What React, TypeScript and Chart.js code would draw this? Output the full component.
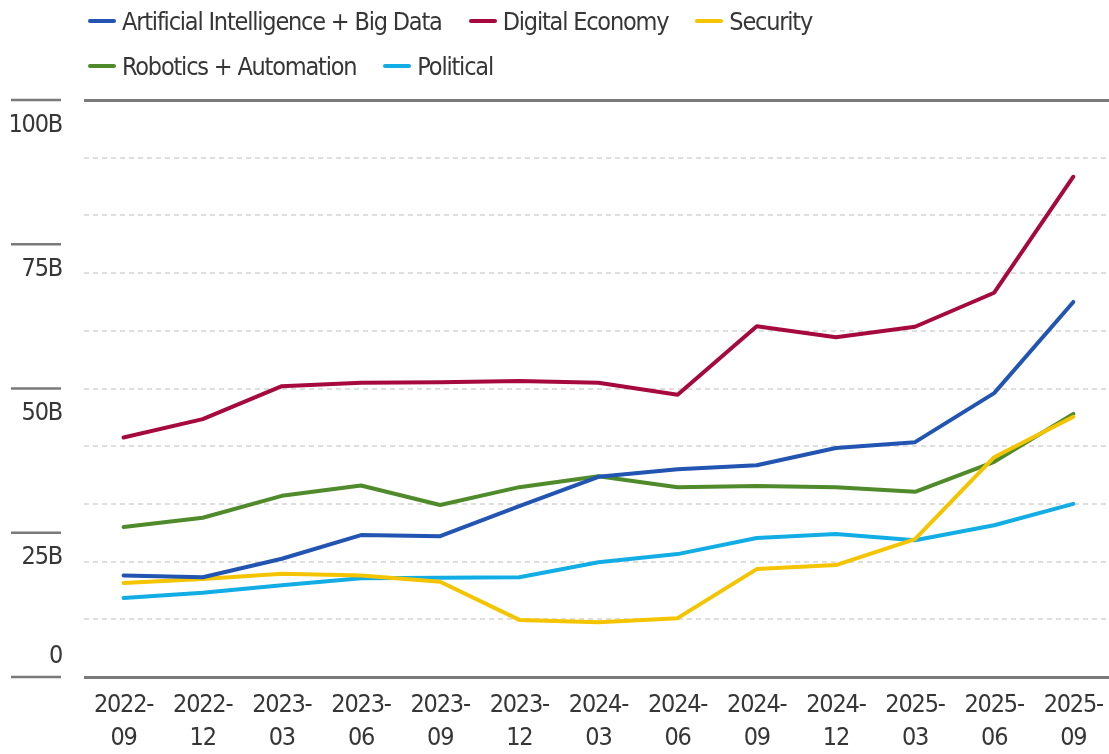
import React, { useEffect, useRef } from "react";
import { Chart, registerables } from "chart.js";

Chart.register(...registerables);

const periods = [
  ["2022-", "09"], ["2022-", "12"], ["2023-", "03"], ["2023-", "06"], ["2023-", "09"],
  ["2023-", "12"], ["2024-", "03"], ["2024-", "06"], ["2024-", "09"], ["2024-", "12"],
  ["2025-", "03"], ["2025-", "06"], ["2025-", "09"],
];

const aiBigData = [17.6, 17.3, 20.5, 24.6, 24.4, 29.6, 34.7, 36.0, 36.7, 39.7, 40.7, 49.2, 65.0];
const digitalEconomy = [41.5, 44.7, 50.4, 51.0, 51.1, 51.3, 51.0, 48.9, 60.8, 58.9, 60.7, 66.6, 86.7];
const security = [16.3, 17.0, 17.9, 17.6, 16.5, 9.9, 9.5, 10.2, 18.7, 19.4, 23.9, 38.1, 45.1];
const robotics = [26.0, 27.6, 31.4, 33.2, 29.8, 32.9, 34.8, 32.9, 33.1, 32.9, 32.1, 37.3, 45.6];
const political = [13.7, 14.6, 15.9, 17.1, 17.2, 17.3, 19.9, 21.3, 24.1, 24.8, 23.7, 26.3, 30.0];

const yLabelValues = [0, 25, 50, 75, 100];
const yLabelText = ["0", "25B", "50B", "75B", "100B"];

const seriesNames = [
  "Artificial Intelligence + Big Data",
  "Digital Economy",
  "Security",
  "Robotics + Automation",
  "Political",
];
const seriesColors = ["#2254B2", "#A6093D", "#F5C400", "#4F8A2B", "#12ADE5"];
const seriesData = [aiBigData, digitalEconomy, security, robotics, political];
const legendRows = [[0, 1, 2], [3, 4]];

const FONT = "'DejaVu Sans Condensed', 'Liberation Sans Narrow', 'Roboto', sans-serif";
const TEXT = "#363636";
const LETTER = "-1.2px";

const spacingPlugin = {
  id: "spacing",
  beforeDraw(chart: any) {
    (chart.ctx as any).letterSpacing = LETTER;
  },
};

const yLabelPlugin = {
  id: "yLabels",
  afterDraw(chart: any) {
    const ctx = chart.ctx;
    const y = chart.scales.y;
    ctx.save();
    (ctx as any).letterSpacing = LETTER;
    ctx.font = `25px ${FONT}`;
    ctx.textAlign = "right";
    ctx.textBaseline = "middle";
    yLabelValues.forEach((v, i) => {
      const py = y.getPixelForValue(v);
      ctx.strokeStyle = "#7a7a7a";
      ctx.lineWidth = 2.5;
      ctx.beginPath();
      ctx.moveTo(11, py);
      ctx.lineTo(61, py);
      ctx.stroke();
      ctx.fillStyle = TEXT;
      ctx.fillText(yLabelText[i], 62, v === 0 ? py - 21 : py + 25);
    });
    ctx.restore();
  },
};

export default function App() {
  const ref = useRef<HTMLCanvasElement>(null);

  useEffect(() => {
    if (!ref.current) return;
    const isEdge = (ctx: any) => ctx.tick && (ctx.tick.value === 0 || ctx.tick.value === 100);
    const chart = new Chart(ref.current, {
      type: "line",
      data: {
        labels: periods,
        datasets: seriesNames.map((name, i) => ({
          label: name,
          data: seriesData[i],
          borderColor: seriesColors[i],
          backgroundColor: seriesColors[i],
          borderWidth: 4,
          pointRadius: 0,
          tension: 0,
          borderCapStyle: "round",
          borderJoinStyle: "round",
        })),
      },
      options: {
        responsive: false,
        animation: false,
        layout: { padding: { left: 84, top: 100, right: 0, bottom: 0 } },
        plugins: {
          legend: { display: false },
          tooltip: { enabled: false },
        },
        scales: {
          x: {
            offset: true,
            grid: { display: false, drawTicks: false },
            border: { display: false },
            ticks: {
              autoSkip: false,
              maxRotation: 0,
              minRotation: 0,
              padding: 12,
              color: TEXT,
              font: { family: FONT, size: 25, lineHeight: 1.32 },
            },
            afterFit: (scale: any) => {
              scale.height = 77;
            },
          },
          y: {
            min: 0,
            max: 100,
            ticks: { display: false, stepSize: 10 },
            grid: {
              drawTicks: false,
              color: (ctx: any) => (isEdge(ctx) ? "#7a7a7a" : "#dedede"),
              lineWidth: (ctx: any) => (isEdge(ctx) ? 3 : 2),
            },
            border: {
              display: false,
              dash: (ctx: any) => (isEdge(ctx) ? [] : [5, 4]),
            },
          },
        },
      },
      plugins: [spacingPlugin, yLabelPlugin],
    });
    return () => chart.destroy();
  }, []);

  return (
    <div
      style={{
        position: "fixed",
        left: 0,
        top: 0,
        width: 1109,
        height: 754,
        overflow: "hidden",
        background: "#fff",
      }}
    >
      <canvas
        ref={ref}
        width={1118}
        height={754}
        style={{ position: "absolute", left: 0, top: 0, width: 1118, height: 754 }}
      />
      <div
        style={{
          position: "absolute",
          left: 88,
          top: 0,
          fontFamily: FONT,
          fontSize: 25,
          letterSpacing: LETTER,
          color: TEXT,
        }}
      >
        {legendRows.map((row, r) => (
          <div key={r} style={{ display: "flex", columnGap: 27, height: 45 }}>
            {row.map((i) => (
              <div
                key={seriesNames[i]}
                style={{ display: "flex", alignItems: "center", height: 42, whiteSpace: "nowrap" }}
              >
                <span
                  style={{
                    display: "inline-block",
                    width: 28,
                    height: 4,
                    borderRadius: 2,
                    background: seriesColors[i],
                    marginRight: 6,
                  }}
                />
                <span>{seriesNames[i]}</span>
              </div>
            ))}
          </div>
        ))}
      </div>
    </div>
  );
}
